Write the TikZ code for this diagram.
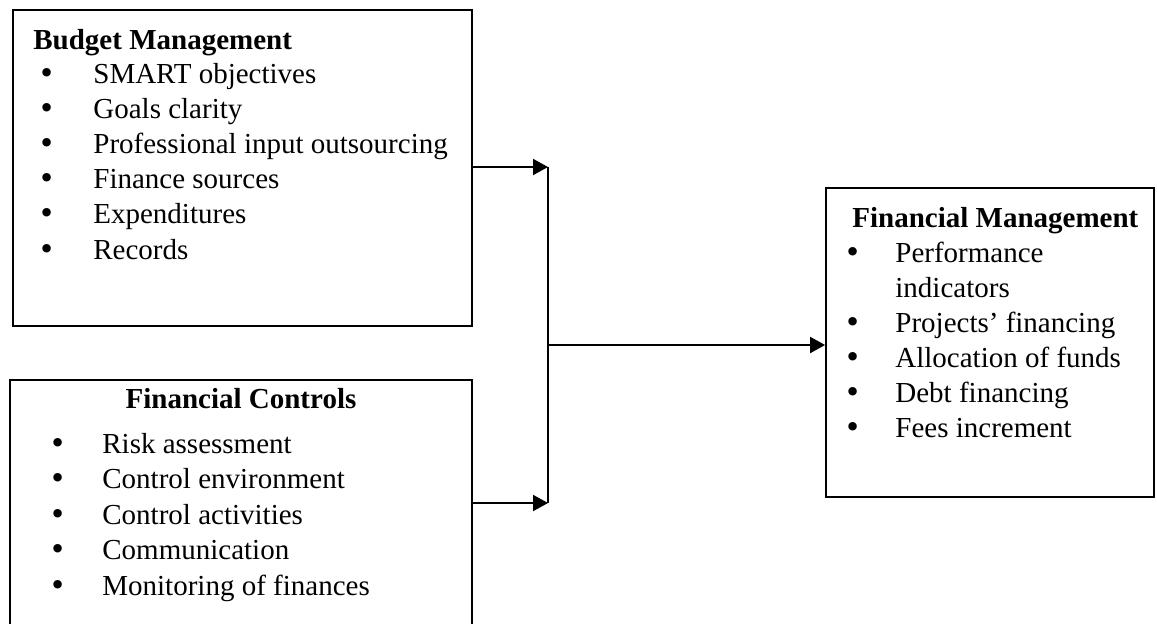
\documentclass[tikz,border=0pt]{standalone}
\usepackage{fontspec}
\setmainfont{Liberation Serif}
\newfontfamily\dotfont{DejaVu Sans}
\usetikzlibrary{positioning}
\usetikzlibrary{arrows.meta}

\newcommand{\boxfont}{\fontsize{14.5pt}{17.5pt}\selectfont}

\tikzset{
    block/.style={draw, rectangle, line width=0.9pt, inner sep=0pt},
    head/.style={font=\boxfont\bfseries, inner sep=0pt},
    entry/.style={font=\boxfont, anchor=base west, inner sep=0pt},
    dot/.style={font=\boxfont\dotfont, anchor=base, inner sep=0pt},
    link/.style={line width=1pt},
    feed/.style={link, -{Triangle[length=7.5pt,width=8pt]}}
}

\begin{document}
\begin{tikzpicture}[x=0.5pt, y=-0.5pt]
    \clip (0,0) rectangle (1157,623);

    % Boxes
    \node (budget) [block, minimum width=229.5pt, minimum height=158pt] at (242.5,168) {};
    \node (controls) [block, minimum width=231pt, minimum height=123pt] at (241,503) {};
    \node (finmgmt) [block, minimum width=164pt, minimum height=154.5pt] at (990,342.5) {};

    % Headings
    \node (budgethead) [head, anchor=base west] at (33,49) {Budget Management};
    \node (controlshead) [head, anchor=base] at (241,408) {Financial Controls};
    \node (finmgmthead) [head, anchor=base west] at (852,227) {Financial Management};

    % Bullet lists
    \foreach \txt [count=\i] in {SMART objectives, Goals clarity, Professional input outsourcing, Finance sources, Expenditures, Records} {
        \node (b\i) [entry] at (93,{83+(\i-1)*35.2}) {\txt};
        \node (bd\i) [dot] at (47,{83+(\i-1)*35.2}) {•};
    }
    \foreach \txt [count=\i] in {Risk assessment, Control environment, Control activities, Communication, Monitoring of finances} {
        \node (c\i) [entry] at (102,{453+(\i-1)*35.5}) {\txt};
        \node (cd\i) [dot] at (58,{453+(\i-1)*35.5}) {•};
    }
    \foreach \txt [count=\i] in {Performance, indicators, Projects’ financing, Allocation of funds, Debt financing, Fees increment}
        \node (f\i) [entry] at (895,{262+(\i-1)*35}) {\txt};
    \foreach \i in {1,3,4,5,6}
        \node (fd\i) [dot] at (853,{262+(\i-1)*35}) {•};

    % Connectors
    \coordinate (jtop) at (548,167);
    \coordinate (jbot) at (548,503);
    \coordinate (jmid) at (548,345);
    \draw[feed] (budget.east |- jtop) -- (jtop);
    \draw[feed] (controls.east) -- (jbot);
    \draw[link] (jtop) -- (jbot);
    \draw[feed] (jmid) -- (finmgmt.west |- jmid);
\end{tikzpicture}
\end{document}
